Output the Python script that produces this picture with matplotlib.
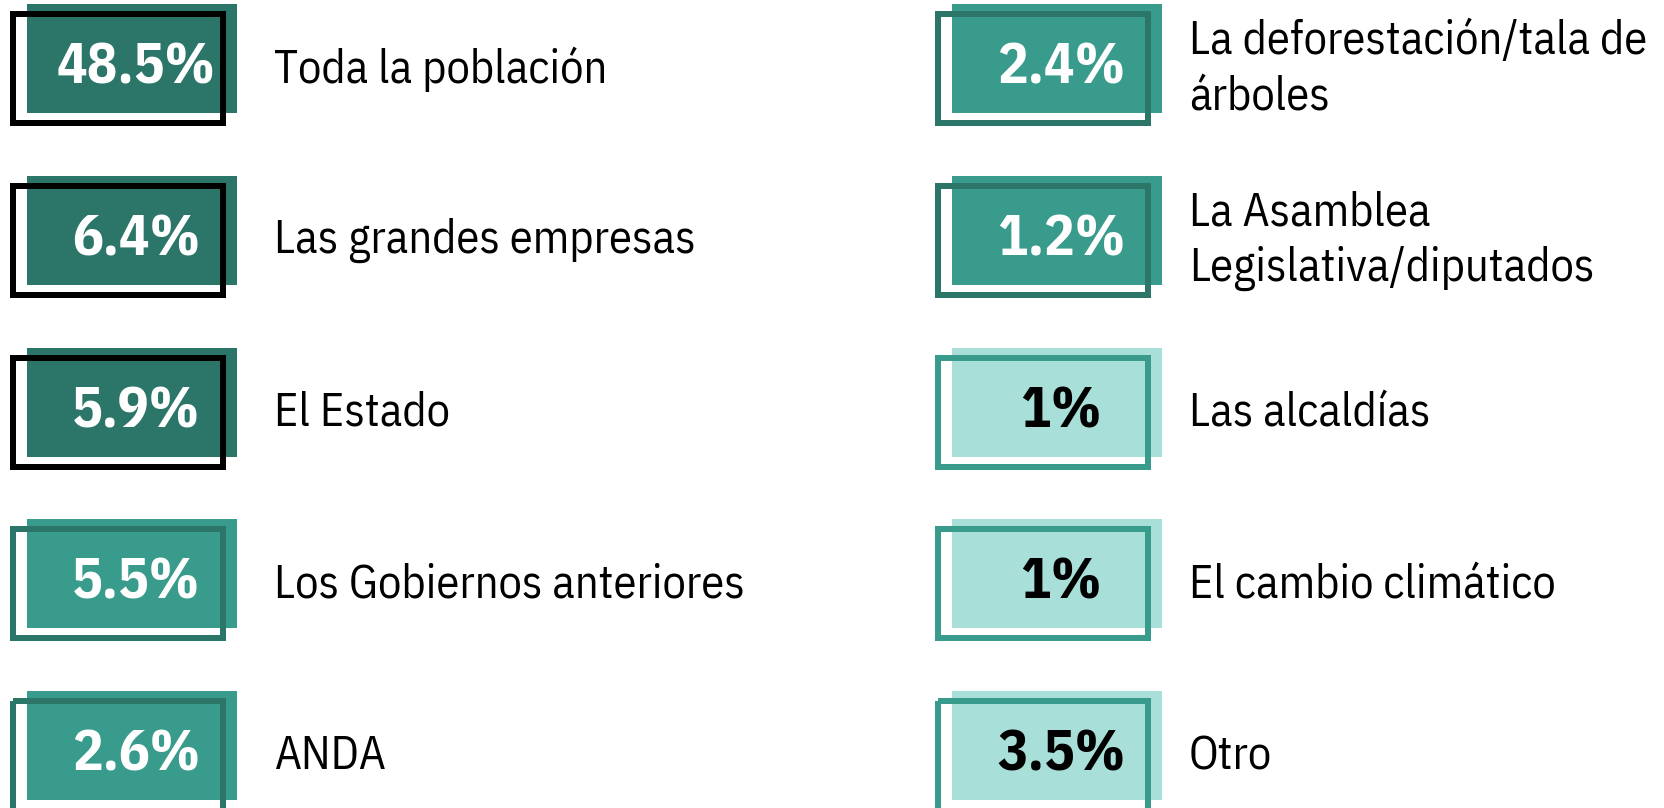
import matplotlib
matplotlib.use("Agg")
import matplotlib.pyplot as plt
from matplotlib.patches import Rectangle

left_labels = ["Toda la población", "Las grandes empresas", "El Estado",
               "Los Gobiernos anteriores", "ANDA"]
left_values = ["48.5%", "6.4%", "5.9%", "5.5%", "2.6%"]
left_shade = ["dark", "dark", "dark", "mid", "mid"]
left_edge = ["black", "black", "black", "dark", "dark"]

right_labels = ["La deforestación/tala de\nárboles", "La Asamblea\nLegislativa/diputados",
                "Las alcaldías", "El cambio climático", "Otro"]
right_values = ["2.4%", "1.2%", "1%", "1%", "3.5%"]
right_shade = ["mid", "mid", "light", "light", "light"]
right_edge = ["dark", "dark", "mid", "mid", "mid"]

palette = {"dark": "#2b7569", "mid": "#389b8c", "light": "#a8dfd9", "black": "#000000"}
textcol = {"dark": "white", "mid": "white", "light": "black"}

W, H = 1664, 808
fig = plt.figure(figsize=(W / 100, H / 100), dpi=100)
ax = fig.add_axes([0, 0, 1, 1])
ax.set_xlim(0, W)
ax.set_ylim(H, 0)
ax.axis("off")

FONT = ["IBM Plex Sans Condensed", "DejaVu Sans"]
row_step = 171.75
fill_w, fill_h = 210, 109
lw_px = 6

def draw_col(x0, labels, values, shades, edges, label_x):
    for i, (lab, val, sh, ed) in enumerate(zip(labels, values, shades, edges)):
        top = 4 + i * row_step
        ax.add_patch(Rectangle((x0 + 17, top), fill_w, fill_h,
                               facecolor=palette[sh], edgecolor="none", zorder=1))
        ax.add_patch(Rectangle((x0 + 3, top + 10), 210, 109, facecolor="none",
                               edgecolor=palette[ed], linewidth=lw_px * 0.72, zorder=2))
        ax.text(x0 + 21 + fill_w / 2, top + 64, val, ha="center", va="center",
                fontsize=41, fontweight="bold", color=textcol[sh], family=FONT, zorder=3)
        ax.text(label_x, top + 65, lab, ha="left", va="center", fontsize=33.5,
                color="black", family=FONT, linespacing=1.32, zorder=3)

draw_col(10, left_labels, left_values, left_shade, left_edge, 274)
draw_col(935, right_labels, right_values, right_shade, right_edge, 1189)

fig.savefig("out.png", dpi=100)
